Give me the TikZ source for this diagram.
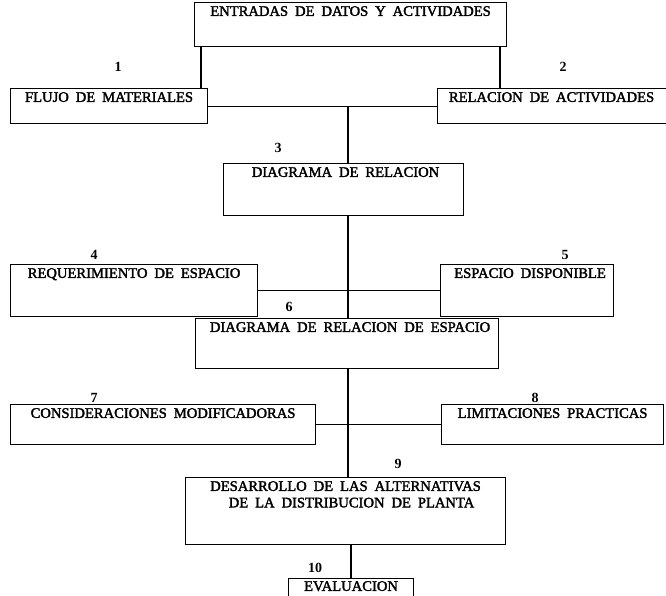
\documentclass[tikz,border=0pt]{standalone}
\usepackage{fontspec}
\setmainfont{Liberation Serif}
\newfontfamily\boxfont{Liberation Serif}[FakeBold=2, WordSpace=1.9]
\begin{document}
\begin{tikzpicture}[x=1pt,y=-1pt,
  box/.style={draw, line width=1.1pt, rectangle, inner sep=0pt, anchor=north west},
  lbl/.style={anchor=north, inner sep=0pt, yshift=-4pt, font=\boxfont\fontsize{14.6}{16.5}\selectfont},
  num/.style={inner sep=0pt, font=\bfseries\fontsize{14}{16}\selectfont},
  wire/.style={line width=1.1pt}]
\useasboundingbox (0,0) rectangle (666,595);
\clip (0,0) rectangle (666,595);

% boxes
\node[box, minimum width=312pt, minimum height=44pt,
      label={[lbl]north:ENTRADAS DE DATOS Y ACTIVIDADES}] (entradas) at (194,2) {};
\node[box, minimum width=197pt, minimum height=35pt,
      label={[lbl]north:FLUJO DE MATERIALES}] (flujo) at (10,88) {};
\node[box, minimum width=240pt, minimum height=35pt,
      label={[lbl,xshift=-6pt]north:RELACION DE ACTIVIDADES}] (relacion) at (437,88) {};
\node[box, minimum width=240pt, minimum height=52pt,
      label={[lbl,xshift=2pt]north:DIAGRAMA DE RELACION}] (diagrama) at (223,163) {};
\node[box, minimum width=247pt, minimum height=52pt,
      label={[lbl]north:REQUERIMIENTO DE ESPACIO}] (requerimiento) at (10,264) {};
\node[box, minimum width=173pt, minimum height=52pt,
      label={[lbl,xshift=3pt]north:ESPACIO DISPONIBLE}] (disponible) at (440,264) {};
\node[box, minimum width=303pt, minimum height=50pt,
      label={[lbl,xshift=3pt]north:DIAGRAMA DE RELACION DE ESPACIO}] (diagesp) at (195,318) {};
\node[box, minimum width=305pt, minimum height=40pt,
      label={[lbl]north:CONSIDERACIONES MODIFICADORAS}] (consider) at (10,404) {};
\node[box, minimum width=222pt, minimum height=40pt,
      label={[lbl]north:LIMITACIONES PRACTICAS}] (limita) at (441,404) {};
\node[box, minimum width=320pt, minimum height=67pt,
      label={[lbl,align=center]north:DESARROLLO DE LAS ALTERNATIVAS\\\hspace*{12pt}DE LA DISTRIBUCION DE PLANTA}] (desarrollo) at (185,477) {};
\node[box, minimum width=125pt, minimum height=40pt,
      label={[lbl,yshift=1pt]north:EVALUACION}] (evaluacion) at (288,578) {};

% step numbers
\node[num] (n1) at (118,67) {1};
\node[num] (n2) at (563,67) {2};
\node[num] (n3) at (278,148) {3};
\node[num] (n4) at (94,255) {4};
\node[num] (n5) at (565,255) {5};
\node[num] (n6) at (289,307) {6};
\node[num] (n7) at (94,398) {7};
\node[num] (n8) at (535,398) {8};
\node[num] (n9) at (398,464) {9};
\node[num] (n10) at (315,568) {10};

% connector positions
\coordinate (xl) at (201,0);
\coordinate (xr) at (500,0);
\coordinate (spine) at (348,0);
\coordinate (spinelow) at (351,0);

% top box feeds steps 1 and 2
\draw[wire] (entradas.south -| xl) -- (flujo.north -| xl);
\draw[wire] (entradas.south -| xr) -- (relacion.north -| xr);
\draw[wire] (flujo.east) -- (relacion.west);
\draw[wire] (flujo.east -| spine) -- (diagrama.north -| spine);

% steps 4 and 5
\draw[wire] (diagrama.south -| spine) -- (diagesp.north -| spine);
\draw[wire] (requerimiento.east) -- (disponible.west);

% steps 7 and 8
\draw[wire] (diagesp.south -| spine) -- (desarrollo.north -| spine);
\draw[wire] (consider.east) -- (limita.west);

% evaluation
\draw[wire] (desarrollo.south -| spinelow) -- (evaluacion.north -| spinelow);
\end{tikzpicture}
\end{document}
